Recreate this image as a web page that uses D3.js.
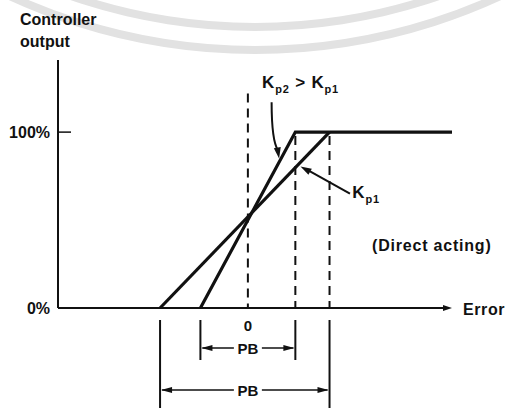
<!DOCTYPE html>
<html>
<head>
<meta charset="utf-8">
<script src="https://d3js.org/d3.v7.min.js"></script>
<style>
    body { margin: 0; background: #fff; }
    svg text {
        font-family: "Liberation Sans", Arial, sans-serif;
        font-weight: bold;
        fill: #111;
    }
</style>
</head>
<body>
<svg id="chart" width="505" height="408"></svg>
<script>
// values (error in arbitrary units, output in %)
const errorRange = [-4, 4.3];
const outputRange = [0, 141];
const outputTicks = [0, 100];
const outputTickLabels = ["0%", "100%"];
const errorTicks = [0];
const errorTickLabels = ["0"];
const kp1Band = [-1.85, 1.72];   // wide band, low gain
const kp2Band = [-1.0, 1.0];     // narrow band, high gain
const outputLimits = [0, 100];

const svg = d3.select("#chart");
const ink = "#111";

const x = d3.scaleLinear().domain(errorRange).range([58, 452]);
const y = d3.scaleLinear().domain(outputRange).range([308, 60]);

// faint scan watermark arcs
[585, 562].forEach(r => {
    const arc = d3.arc()
        .innerRadius(r - 4).outerRadius(r + 4)
        .startAngle(Math.PI - 0.62).endAngle(Math.PI + 0.62);
    svg.append("path")
        .attr("transform", `translate(255,${50 - 585})`)
        .attr("d", arc())
        .attr("fill", "#e2e2e2");
});

function arrowHead(tipX, tipY, fromX, fromY, len, half) {
    const a = Math.atan2(tipY - fromY, tipX - fromX);
    const bx = tipX - len * Math.cos(a), by = tipY - len * Math.sin(a);
    const px = -Math.sin(a) * half, py = Math.cos(a) * half;
    svg.append("path")
        .attr("d", `M${tipX},${tipY}L${bx + px},${by + py}L${bx - px},${by - py}Z`)
        .attr("fill", ink);
}

// axes
svg.append("line")
    .attr("x1", x(errorRange[0])).attr("x2", x(errorRange[0]))
    .attr("y1", y(outputRange[1])).attr("y2", y(0))
    .attr("stroke", ink).attr("stroke-width", 2);
svg.append("line")
    .attr("x1", x(errorRange[0])).attr("x2", x(errorRange[1]) - 4)
    .attr("y1", y(0)).attr("y2", y(0))
    .attr("stroke", ink).attr("stroke-width", 2);
arrowHead(x(errorRange[1]), y(0), x(errorRange[0]), y(0), 9, 3);

// y ticks
svg.selectAll(".ytick").data(outputTicks).enter().append("line")
    .attr("x1", x(errorRange[0])).attr("x2", d => d === 0 ? x(errorRange[0]) : x(errorRange[0]) + 13)
    .attr("y1", d => y(d)).attr("y2", d => y(d))
    .attr("stroke", ink).attr("stroke-width", 1.5);
svg.selectAll(".ylab").data(outputTicks).enter().append("text")
    .attr("x", x(errorRange[0]) - 8)
    .attr("y", d => y(d) + 6)
    .attr("text-anchor", "end")
    .attr("font-size", 16)
    .text((d, i) => outputTickLabels[i]);

svg.selectAll(".xlab").data(errorTicks).enter().append("text")
    .attr("x", d => x(d))
    .attr("y", y(0) + 23)
    .attr("text-anchor", "middle")
    .attr("font-size", 15)
    .text((d, i) => errorTickLabels[i]);

// axis titles
svg.append("text").attr("x", 20).attr("y", 25).attr("font-size", 16).text("Controller");
svg.append("text").attr("x", 20).attr("y", 47).attr("font-size", 16).text("output");
svg.append("text").attr("x", 463).attr("y", y(0) + 7).attr("font-size", 16)
    .attr("letter-spacing", 0.6).text("Error");

// dashed guide lines
const dash = "9,6";
svg.append("line")
    .attr("x1", x(0)).attr("x2", x(0))
    .attr("y1", y(122)).attr("y2", y(0))
    .attr("stroke", ink).attr("stroke-width", 2).attr("stroke-dasharray", dash);
[kp2Band[1], kp1Band[1]].forEach(v => {
    svg.append("line")
        .attr("x1", x(v)).attr("x2", x(v))
        .attr("y1", y(outputLimits[1]) + 4).attr("y2", y(0))
        .attr("stroke", ink).attr("stroke-width", 2).attr("stroke-dasharray", dash);
});

// controller characteristics
const line = d3.line().x(d => x(d[0])).y(d => y(d[1]));
const kp1Pts = [[kp1Band[0], outputLimits[0]], [kp1Band[1], outputLimits[1]]];
const kp2Pts = [[kp2Band[0], outputLimits[0]], [kp2Band[1], outputLimits[1]], [errorRange[1], outputLimits[1]]];
svg.append("path").datum(kp1Pts).attr("d", line)
    .attr("fill", "none").attr("stroke", ink).attr("stroke-width", 3.2);
svg.append("path").datum(kp2Pts).attr("d", line)
    .attr("fill", "none").attr("stroke", ink).attr("stroke-width", 3.2)
    .attr("stroke-linejoin", "miter");

// labels with subscripts
function kLabel(px, py, parts) {
    const t = svg.append("text").attr("x", px).attr("y", py)
        .attr("font-size", 17).attr("letter-spacing", 0.8);
    parts.forEach(p => {
        t.append("tspan")
            .attr("font-size", p.sub ? 11 : 17)
            .attr("dy", p.dy)
            .text(p.s);
    });
}
kLabel(x(0.3), y(125), [
    { s: "K", dy: 0 }, { s: "p2", sub: true, dy: 5 },
    { s: " > ", dy: -5 }, { s: "K", dy: 0 }, { s: "p1", sub: true, dy: 5 }
]);
kLabel(x(2.2), y(62.5), [{ s: "K", dy: 0 }, { s: "p1", sub: true, dy: 5 }]);

// Kp2 pointer (slightly curved)
const tip2 = [x(kp2Band[0] + (kp2Band[1] - kp2Band[0]) * 0.85) - 2, y(85)];
const p = d3.path();
p.moveTo(x(0.5), y(117));
p.quadraticCurveTo(x(0.5), y(95), tip2[0] - 1, tip2[1] - 8);
svg.append("path").attr("d", p.toString())
    .attr("fill", "none").attr("stroke", ink).attr("stroke-width", 2);
arrowHead(tip2[0], tip2[1], tip2[0] - 2, tip2[1] - 12, 11, 3.5);

// Kp1 pointer
const tip1 = [x(kp1Band[0] + (kp1Band[1] - kp1Band[0]) * 0.805) + 4, y(80.5)];
svg.append("line")
    .attr("x1", x(2.15)).attr("y1", y(65))
    .attr("x2", tip1[0] + 6).attr("y2", tip1[1] + 3)
    .attr("stroke", ink).attr("stroke-width", 2);
arrowHead(tip1[0], tip1[1], x(2.15), y(65), 11, 3.5);

svg.append("text").attr("x", 372).attr("y", y(36) + 6).attr("font-size", 16)
    .attr("letter-spacing", 0.8).text("(Direct acting)");

// proportional band brackets
function bracket(band, top, bottom, ay) {
    const x0 = x(band[0]), x1 = x(band[1]), xm = x(0);
    [x0, x1].forEach(v => {
        svg.append("line").attr("x1", v).attr("x2", v)
            .attr("y1", top).attr("y2", bottom)
            .attr("stroke", ink).attr("stroke-width", 2);
    });
    svg.append("line").attr("x1", x0 + 2).attr("x2", xm - 14).attr("y1", ay).attr("y2", ay)
        .attr("stroke", ink).attr("stroke-width", 1.5);
    svg.append("line").attr("x1", xm + 14).attr("x2", x1 - 2).attr("y1", ay).attr("y2", ay)
        .attr("stroke", ink).attr("stroke-width", 1.5);
    arrowHead(x0 + 1, ay, xm, ay, 11, 3);
    arrowHead(x1 - 1, ay, xm, ay, 11, 3);
    svg.append("text").attr("x", xm).attr("y", ay + 6)
        .attr("text-anchor", "middle").attr("font-size", 15).text("PB");
}
bracket(kp2Band, 320, 360, 348);
bracket(kp1Band, 320, 408, 390);
</script>
</body>
</html>
